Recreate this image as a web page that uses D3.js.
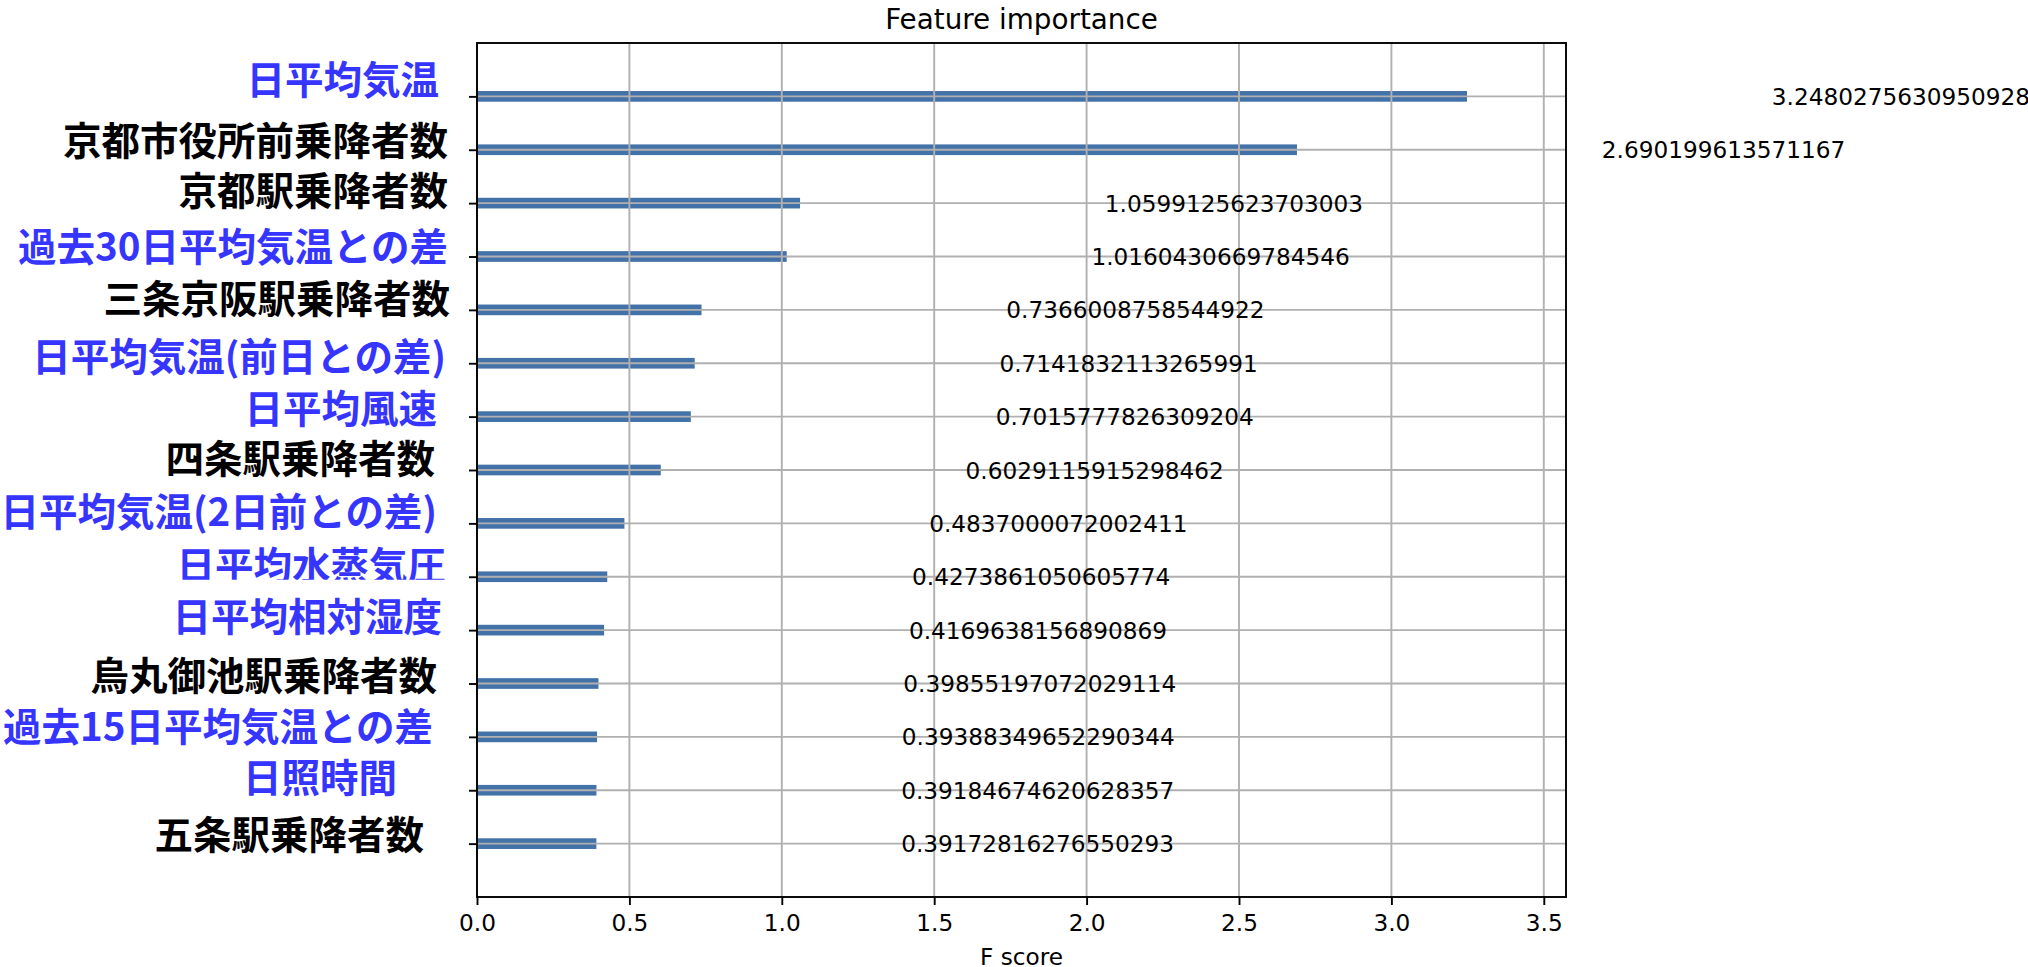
<!DOCTYPE html>
<html>
<head>
<meta charset="utf-8">
<script src="https://cdn.jsdelivr.net/npm/d3@7"></script>
<style>
  html, body { margin: 0; padding: 0; background: #fff; }
  svg { display: block; }
</style>
</head>
<body>
<svg id="chart" width="2028" height="967"></svg>
<script>
// Feature names, top to bottom (largest F score first)
const features = [
  "日平均気温",
  "京都市役所前乗降者数",
  "京都駅乗降者数",
  "過去30日平均気温との差",
  "三条京阪駅乗降者数",
  "日平均気温(前日との差)",
  "日平均風速",
  "四条駅乗降者数",
  "日平均気温(2日前との差)",
  "日平均水蒸気圧",
  "日平均相対湿度",
  "烏丸御池駅乗降者数",
  "過去15日平均気温との差",
  "日照時間",
  "五条駅乗降者数"
];

// F score per feature
const scores = [
  3.2480275630950928,
  2.690199613571167,
  1.0599125623703003,
  1.0160430669784546,
  0.7366008758544922,
  0.7141832113265991,
  0.7015777826309204,
  0.6029115915298462,
  0.4837000072002411,
  0.4273861050605774,
  0.4169638156890869,
  0.39855197072029114,
  0.39388349652290344,
  0.39184674620628357,
  0.39172816276550293
];

// Weather-related features are highlighted in blue, station ridership in black
const featureGroup = [
  "weather", "station", "station", "weather", "station",
  "weather", "weather", "station", "weather", "weather",
  "weather", "station", "weather", "weather", "station"
];

const xTickValues = [0, 0.5, 1, 1.5, 2, 2.5, 3, 3.5];

const title = "Feature importance";
const xLabel = "F score";

// ---- layout ----
const W = 2028, H = 967;
const plot = { left: 477, right: 1566, top: 43, bottom: 897 };
const groupColor = { weather: "#3535ff", station: "#000000" };
const barColor = "#4272a8";
const gridColor = "#b0b0b0";
const monoFont = "'DejaVu Sans', sans-serif";
const cjkFont = "'Noto Sans CJK JP', 'Noto Sans CJK SC', sans-serif";

// per-label placement of the large feature names (right edge, vertical shift)
const labelRight = [439, 448, 448, 448, 450, 446, 437, 435, 437, 446, 442, 437, 433, 397, 424];
const labelShift = [-19, -12, -15, -13, -14, -9, -11, -14, -14, -14, -16, -11, -13, -15, -12];

const svg = d3.select("#chart");
svg.append("rect").attr("width", W).attr("height", H).attr("fill", "#fff");

const x = d3.scaleLinear()
  .domain([0, d3.max(scores) * 1.1])
  .range([plot.left, plot.right]);

const idx = d3.range(features.length);
const y = d3.scaleLinear()
  .domain([-1, features.length])
  .range([plot.top, plot.bottom]);

const barH = y(0.2) - y(0);

// bars
svg.append("g").selectAll("rect")
  .data(idx)
  .join("rect")
  .attr("x", x(0))
  .attr("y", i => y(i) - barH / 2)
  .attr("width", i => x(scores[i]) - x(0))
  .attr("height", barH)
  .attr("fill", barColor);

// grid (drawn over the bars)
const grid = svg.append("g").attr("stroke", gridColor).attr("stroke-width", 1.9);
grid.selectAll("line.v")
  .data(xTickValues)
  .join("line")
  .attr("class", "v")
  .attr("x1", d => x(d)).attr("x2", d => x(d))
  .attr("y1", plot.top).attr("y2", plot.bottom);
grid.selectAll("line.h")
  .data(idx)
  .join("line")
  .attr("class", "h")
  .attr("x1", plot.left).attr("x2", plot.right)
  .attr("y1", i => y(i)).attr("y2", i => y(i));

// x axis
const xAxis = svg.append("g")
  .attr("transform", `translate(0,${plot.bottom})`)
  .call(d3.axisBottom(x)
    .tickValues(xTickValues)
    .tickFormat(d3.format(".1f"))
    .tickSize(8)
    .tickPadding(10));
xAxis.select(".domain").remove();
xAxis.selectAll(".tick line").attr("stroke", "#000").attr("stroke-width", 1.9);
xAxis.selectAll(".tick text")
  .attr("font-family", monoFont)
  .attr("font-size", 23.2)
  .attr("fill", "#000");

// y axis ticks
const yAxis = svg.append("g")
  .attr("transform", `translate(${plot.left},0)`)
  .call(d3.axisLeft(y).tickValues(idx).tickFormat("").tickSize(8));
yAxis.select(".domain").remove();
yAxis.selectAll(".tick line").attr("stroke", "#000").attr("stroke-width", 1.9);

// frame
svg.append("rect")
  .attr("x", plot.left).attr("y", plot.top)
  .attr("width", plot.right - plot.left)
  .attr("height", plot.bottom - plot.top)
  .attr("fill", "none")
  .attr("stroke", "#000")
  .attr("stroke-width", 1.9);

// score labels, placed one unit to the right of each bar end
svg.append("g").selectAll("text")
  .data(idx)
  .join("text")
  .attr("x", i => x(scores[i] + 1))
  .attr("y", i => y(i))
  .attr("dominant-baseline", "central")
  .attr("font-family", monoFont)
  .attr("font-size", 23.2)
  .attr("fill", "#000")
  .text(i => String(scores[i]));

// feature names
svg.append("g").selectAll("text")
  .data(idx)
  .join("text")
  .attr("x", i => labelRight[i])
  .attr("y", i => y(i) + labelShift[i])
  .attr("text-anchor", "end")
  .attr("dominant-baseline", "central")
  .attr("font-family", cjkFont)
  .attr("font-weight", "bold")
  .attr("font-size", 38.5)
  .attr("fill", i => groupColor[featureGroup[i]])
  .text(i => features[i]);

// backing patch of the humidity label trims the vapour-pressure label above it
svg.append("rect")
  .attr("x", 170).attr("y", y(9) + 3)
  .attr("width", 280).attr("height", 6)
  .attr("fill", "#fff");

// title and axis label
svg.append("text")
  .attr("x", (plot.left + plot.right) / 2)
  .attr("y", 29)
  .attr("text-anchor", "middle")
  .attr("font-family", monoFont)
  .attr("font-size", 27.8)
  .attr("fill", "#000")
  .text(title);

svg.append("text")
  .attr("x", (plot.left + plot.right) / 2)
  .attr("y", 965)
  .attr("text-anchor", "middle")
  .attr("font-family", monoFont)
  .attr("font-size", 23.2)
  .attr("fill", "#000")
  .text(xLabel);
</script>
</body>
</html>
